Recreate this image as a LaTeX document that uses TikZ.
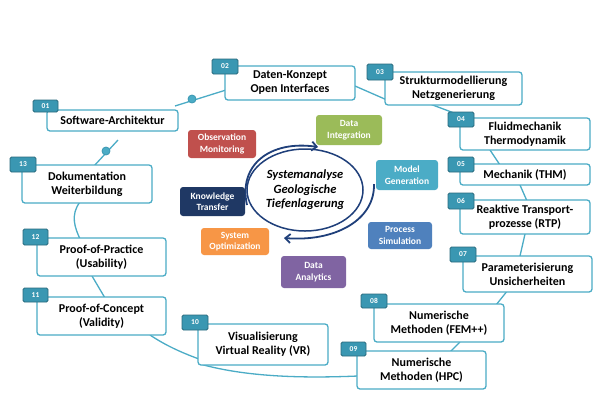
\documentclass[tikz,border=0pt]{standalone}
\usepackage{fontspec}
\setmainfont{Carlito}
\usetikzlibrary{arrows.meta,shapes.geometric}
\definecolor{fr}{HTML}{4BACC6}
\definecolor{tabc}{HTML}{3A97B2}
\definecolor{cred}{HTML}{C0504D}
\definecolor{cgreen}{HTML}{9BBB59}
\definecolor{cteal}{HTML}{4BACC6}
\definecolor{cnavy}{HTML}{1F3864}
\definecolor{corange}{HTML}{F79646}
\definecolor{cblue}{HTML}{4F81BD}
\definecolor{cpurple}{HTML}{8064A2}
\definecolor{ring}{HTML}{1F3F7A}
\begin{document}
\begin{tikzpicture}[x=1pt,y=-1pt,
  wbox/.style={draw=fr,line width=1.3pt,rounded corners=3pt,fill=white,font=\bfseries\fontsize{12}{14}\selectfont,align=center,inner sep=0pt},
  tabn/.style={draw=tabc!70!black,line width=0.8pt,rounded corners=1.5pt,fill=tabc,text=white,font=\bfseries\fontsize{7.5}{8}\selectfont,inner sep=0pt},
  cbox/.style={rounded corners=3pt,text=white,font=\bfseries\fontsize{9.5}{11.5}\selectfont,align=center,inner sep=0pt},
  link/.style={draw=fr,line width=1.3pt},
  dotc/.style={circle,draw=tabc,fill=fr,line width=0.8pt,minimum size=8pt,inner sep=0pt}]
\fill[white] (0,0) rectangle (600,400);
\newcommand{\WB}[6]{%
  \node[wbox,minimum width=#4-#2,minimum height=#5-#3] (#1) at ({(#2+#4)/2},{(#3+#5)/2}) {#6};}
\newcommand{\TB}[6]{%
  \node[tabn,minimum width=#4-#2,minimum height=#5-#3] (#1) at ({(#2+#4)/2},{(#3+#5)/2}) {#6};}
\coordinate (c01a) at (175,106); \coordinate (c01b) at (226,90);
\coordinate (c13a) at (118,140); \coordinate (c13b) at (94,166);
\draw[link] (c01a) -- (c01b);
\draw[link] (c13a) -- (c13b);
\draw[link] (355,86) -- (387,100);
\draw[link] (430,104) -- (470,119);
\draw[link] (490,150) -- (500,165);
\draw[link] (520,185) -- (527,201);
\draw[link] (525,234) -- (520,256);
\draw[link] (508,290) -- (496,305);
\draw[link] (460,342) -- (450,352);
\draw[link] (80,202) .. controls (70,215) and (75,228) .. (80,239);
\draw[link] (92,276) -- (105,298);
\draw[link] (150,335) .. controls (165,345) and (180,352) .. (199,359);
\draw[link] (200,364) .. controls (250,378) and (310,378) .. (358,376);
\node[dotc] (d1) at (192,99) {};
\node[dotc] (d2) at (106,151) {};
\WB{b01}{47}{110}{178}{131}{Software-Architektur}
\TB{t01}{33}{100}{58}{112}{01}
\WB{b02}{225}{66}{355}{100}{Daten-Konzept\\Open Interfaces}
\TB{t02}{212}{59}{238}{74}{02}
\WB{b03}{385}{72}{522}{105}{Strukturmodellierung\\Netzgenerierung}
\TB{t03}{367}{64}{393}{80}{03}
\WB{b04}{460}{118}{590}{150}{Fluidmechanik\\Thermodynamik}
\TB{t04}{448}{112}{474}{127}{04}
\WB{b05}{460}{164}{590}{185}{Mechanik (THM)}
\TB{t05}{448}{157}{474}{172}{05}
\WB{b06}{460}{200}{590}{234}{Reaktive Transport-\\prozesse (RTP)}
\TB{t06}{448}{193}{474}{209}{06}
\WB{b07}{463}{256}{592}{292}{Parameterisierung\\Unsicherheiten}
\TB{t07}{450}{247}{476}{262}{07}
\WB{b08}{374}{304}{504}{342}{Numerische\\Methoden (FEM++)}
\TB{t08}{361}{294}{387}{308}{08}
\WB{b09}{357}{351}{486}{389}{Numerische\\Methoden (HPC)}
\TB{t09}{341}{342}{366}{356}{09}
\WB{b10}{198}{324}{328}{365}{Visualisierung\\Virtual Reality (VR)}
\TB{t10}{182}{315}{208}{330}{10}
\WB{b11}{37}{297}{166}{335}{Proof-of-Concept\\(Validity)}
\TB{t11}{23}{288}{48}{302}{11}
\WB{b12}{37}{238}{166}{276}{Proof-of-Practice\\(Usability)}
\TB{t12}{23}{229}{48}{245}{12}
\WB{b13}{22}{165}{152}{203}{Dokumentation\\Weiterbildung}
\TB{t13}{10}{157}{36}{172}{13}
\node[draw=ring,line width=1.5pt,ellipse,minimum width=116pt,minimum height=82pt,inner sep=0pt,
  font=\bfseries\itshape\fontsize{12.5}{14.5}\selectfont,align=center] (core) at (305,190)
  {Systemanalyse\\Geologische\\Tiefenlagerung};
\draw[ring,line width=1.8pt,-{Straight Barb[length=5pt,width=9pt]}] (247,205) .. controls (238,165) and (270,140) .. (318,147);
\draw[ring,line width=1.8pt,-{Straight Barb[length=5pt,width=9pt]}] (374,184) .. controls (375,220) and (335,242) .. (284,238);
\node[cbox,fill=cred,minimum width=68pt,minimum height=28pt] (obs) at (222,144) {Observation\\Monitoring};
\node[cbox,fill=cgreen,minimum width=66pt,minimum height=30pt] (di) at (349,130) {Data\\Integration};
\node[cbox,fill=cteal,minimum width=62pt,minimum height=30pt] (mg) at (407,175) {Model\\Generation};
\node[cbox,fill=cnavy,minimum width=65pt,minimum height=29pt] (kt) at (212.5,201.5) {Knowledge\\Transfer};
\node[cbox,fill=corange,minimum width=68pt,minimum height=27pt] (so) at (235,241.5) {System\\Optimization};
\node[cbox,fill=cblue,minimum width=64pt,minimum height=27pt] (ps) at (400,235.5) {Process\\Simulation};
\node[cbox,fill=cpurple,minimum width=65pt,minimum height=32pt] (da) at (313.5,272) {Data\\Analytics};
\end{tikzpicture}
\end{document}
